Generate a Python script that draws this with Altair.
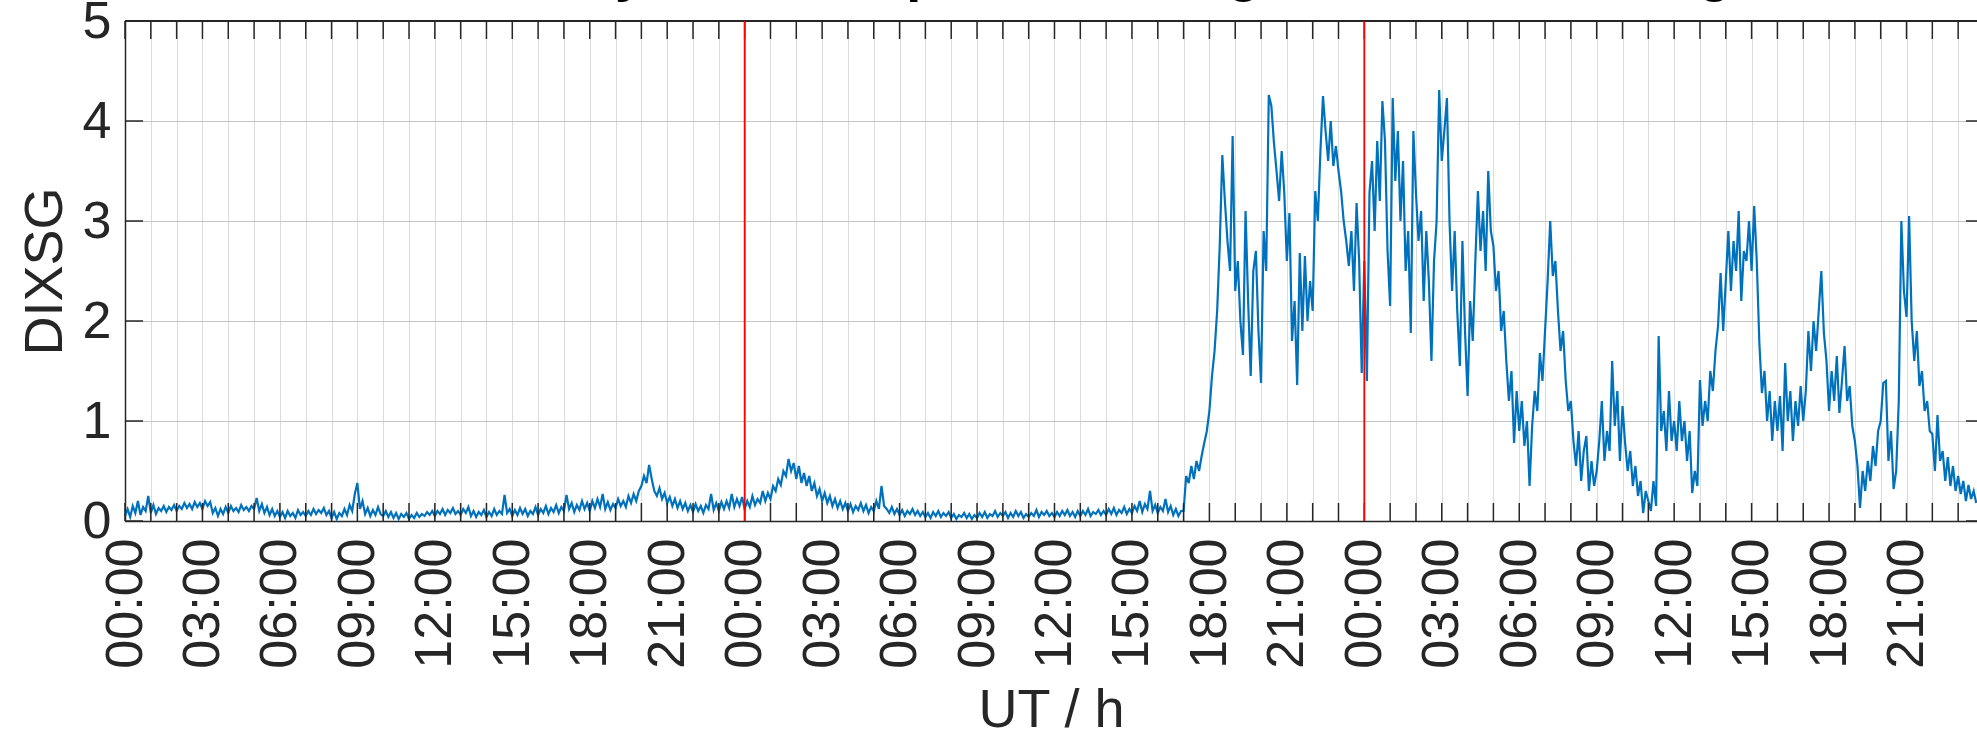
import altair as alt
import pandas as pd

# ---------------- data (DIXSG, 6-minute steps) ----------------
day1 = [
    [0.05, 0.12, 0.04, 0.15, 0.08, 0.20, 0.06, 0.14, 0.10, 0.25],
    [0.08, 0.16, 0.07, 0.13, 0.10, 0.15, 0.09, 0.14, 0.11, 0.16],
    [0.10, 0.15, 0.12, 0.18, 0.13, 0.17, 0.12, 0.19, 0.14, 0.18],
    [0.12, 0.20, 0.15, 0.19, 0.08, 0.13, 0.05, 0.12, 0.07, 0.14],
    [0.08, 0.15, 0.10, 0.13, 0.09, 0.16, 0.11, 0.14, 0.10, 0.15],
    [0.12, 0.23, 0.10, 0.17, 0.08, 0.14, 0.06, 0.12, 0.05, 0.10],
    [0.04, 0.09, 0.03, 0.10, 0.05, 0.08, 0.03, 0.11, 0.06, 0.09],
    [0.05, 0.10, 0.06, 0.12, 0.07, 0.11, 0.08, 0.13, 0.06, 0.10],
    [0.03, 0.09, 0.02, 0.08, 0.05, 0.12, 0.06, 0.16, 0.10, 0.27],
    [0.38, 0.12, 0.20, 0.07, 0.13, 0.05, 0.11, 0.06, 0.14, 0.07],
    [0.05, 0.10, 0.04, 0.09, 0.03, 0.08, 0.02, 0.07, 0.04, 0.08],
    [0.02, 0.06, 0.03, 0.08, 0.04, 0.07, 0.05, 0.09, 0.06, 0.10],
    [0.05, 0.10, 0.07, 0.12, 0.06, 0.11, 0.08, 0.13, 0.07, 0.10],
    [0.06, 0.12, 0.08, 0.14, 0.05, 0.10, 0.04, 0.09, 0.06, 0.11],
    [0.04, 0.09, 0.05, 0.12, 0.06, 0.10, 0.07, 0.26, 0.08, 0.12],
    [0.05, 0.11, 0.06, 0.13, 0.07, 0.12, 0.05, 0.10, 0.07, 0.14],
    [0.06, 0.12, 0.08, 0.15, 0.07, 0.13, 0.09, 0.16, 0.08, 0.14],
    [0.10, 0.26, 0.12, 0.18, 0.09, 0.16, 0.11, 0.20, 0.12, 0.18],
    [0.10, 0.20, 0.13, 0.22, 0.14, 0.27, 0.12, 0.19, 0.11, 0.17],
    [0.13, 0.22, 0.15, 0.20, 0.14, 0.25, 0.18, 0.27, 0.20, 0.30],
    [0.35, 0.45, 0.38, 0.56, 0.42, 0.30, 0.25, 0.33, 0.22, 0.28],
    [0.18, 0.24, 0.15, 0.22, 0.13, 0.20, 0.12, 0.18, 0.10, 0.16],
    [0.09, 0.17, 0.10, 0.15, 0.08, 0.16, 0.12, 0.27, 0.11, 0.18],
    [0.10, 0.19, 0.12, 0.20, 0.13, 0.27, 0.14, 0.22, 0.15, 0.24],
]
day2 = [
    [0.12, 0.20, 0.14, 0.25, 0.16, 0.22, 0.18, 0.30, 0.20, 0.28],
    [0.22, 0.35, 0.30, 0.42, 0.36, 0.50, 0.45, 0.62, 0.50, 0.58],
    [0.42, 0.55, 0.38, 0.48, 0.35, 0.45, 0.30, 0.38, 0.25, 0.32],
    [0.20, 0.28, 0.18, 0.25, 0.15, 0.22, 0.13, 0.20, 0.12, 0.18],
    [0.10, 0.17, 0.09, 0.15, 0.11, 0.18, 0.10, 0.16, 0.08, 0.14],
    [0.10, 0.20, 0.12, 0.35, 0.15, 0.12, 0.08, 0.14, 0.07, 0.12],
    [0.06, 0.11, 0.05, 0.10, 0.07, 0.12, 0.06, 0.10, 0.05, 0.09],
    [0.04, 0.08, 0.03, 0.09, 0.05, 0.10, 0.04, 0.08, 0.05, 0.09],
    [0.03, 0.07, 0.02, 0.06, 0.04, 0.08, 0.03, 0.07, 0.02, 0.06],
    [0.03, 0.08, 0.04, 0.09, 0.03, 0.07, 0.05, 0.10, 0.04, 0.08],
    [0.05, 0.09, 0.03, 0.08, 0.04, 0.10, 0.05, 0.09, 0.03, 0.07],
    [0.04, 0.08, 0.05, 0.11, 0.04, 0.09, 0.06, 0.10, 0.05, 0.08],
    [0.04, 0.09, 0.05, 0.10, 0.06, 0.11, 0.05, 0.09, 0.04, 0.10],
    [0.05, 0.10, 0.06, 0.12, 0.05, 0.09, 0.07, 0.11, 0.06, 0.10],
    [0.06, 0.12, 0.07, 0.13, 0.06, 0.11, 0.08, 0.14, 0.07, 0.12],
    [0.08, 0.15, 0.10, 0.20, 0.09, 0.17, 0.12, 0.30, 0.10, 0.16],
    [0.08, 0.14, 0.10, 0.22, 0.09, 0.15, 0.06, 0.12, 0.05, 0.10],
    [0.10, 0.45, 0.38, 0.55, 0.42, 0.60, 0.50, 0.65, 0.78, 0.90],
    [1.10, 1.45, 1.70, 2.10, 2.75, 3.66, 3.20, 2.80, 2.50, 3.85],
    [2.30, 2.60, 2.00, 1.66, 3.10, 2.20, 1.45, 2.50, 2.70, 1.90],
    [1.38, 2.90, 2.50, 4.26, 4.15, 3.78, 3.50, 3.20, 3.70, 3.28],
    [2.60, 3.08, 1.80, 2.20, 1.36, 2.68, 1.90, 2.65, 2.00, 2.40],
    [2.10, 3.30, 3.00, 3.70, 4.25, 3.90, 3.60, 4.00, 3.55, 3.75],
    [3.50, 3.30, 3.00, 2.80, 2.55, 2.90, 2.30, 3.18, 2.60, 1.48],
]
day3 = [
    [2.60, 1.40, 3.28, 3.60, 2.90, 3.80, 3.20, 4.20, 3.80, 2.70],
    [2.15, 4.23, 3.40, 3.90, 3.00, 3.60, 2.50, 2.90, 1.88, 3.90],
    [3.28, 2.80, 3.10, 2.20, 2.90, 2.40, 1.60, 2.60, 3.00, 4.31],
    [3.60, 3.90, 4.23, 3.00, 2.30, 2.90, 2.10, 1.55, 2.80, 1.90],
    [1.25, 2.20, 1.80, 2.60, 3.30, 2.70, 3.10, 2.50, 3.50, 2.90],
    [2.75, 2.30, 2.50, 1.90, 2.10, 1.60, 1.20, 1.50, 0.78, 1.30],
    [0.90, 1.20, 0.75, 1.00, 0.35, 0.95, 1.30, 1.10, 1.68, 1.40],
    [1.90, 2.40, 3.00, 2.45, 2.60, 2.10, 1.70, 1.90, 1.40, 1.10],
    [1.20, 0.80, 0.55, 0.90, 0.40, 0.70, 0.85, 0.30, 0.60, 0.35],
    [0.50, 0.80, 1.20, 0.60, 0.90, 0.70, 1.60, 0.95, 1.30, 0.60],
    [1.15, 0.78, 0.50, 0.70, 0.35, 0.55, 0.25, 0.40, 0.08, 0.30],
    [0.20, 0.10, 0.40, 0.15, 1.85, 0.90, 1.10, 0.70, 1.30, 0.80],
    [1.00, 0.70, 1.20, 0.80, 1.00, 0.60, 0.90, 0.28, 0.50, 0.35],
    [1.41, 0.95, 1.20, 1.00, 1.50, 1.30, 1.70, 1.95, 2.48, 1.90],
    [2.40, 2.90, 2.30, 2.80, 2.50, 3.10, 2.20, 2.70, 2.60, 3.00],
    [2.50, 3.15, 2.60, 1.78, 1.28, 1.50, 1.00, 1.30, 0.80, 1.20],
    [0.90, 1.25, 0.70, 1.58, 1.00, 1.30, 0.80, 1.20, 0.95, 1.35],
    [1.00, 1.30, 1.90, 1.50, 2.00, 1.70, 2.10, 2.50, 1.88, 1.60],
    [1.10, 1.50, 1.20, 1.65, 1.08, 1.40, 1.75, 1.20, 1.35, 0.95],
    [0.80, 0.55, 0.13, 0.50, 0.30, 0.60, 0.40, 0.75, 0.55, 0.90],
    [1.00, 1.38, 1.40, 0.60, 0.90, 0.32, 0.50, 1.20, 3.00, 2.30],
    [2.04, 3.05, 2.00, 1.60, 1.90, 1.35, 1.50, 1.10, 1.20, 0.90],
    [0.87, 0.50, 1.06, 0.60, 0.70, 0.40, 0.64, 0.35, 0.55, 0.30],
    [0.45, 0.27, 0.40, 0.20, 0.36, 0.22, 0.30, 0.18],
]
step_h = 0.1                      # 6-minute sampling, in hours
hour_ticks = list(range(72))      # tick every hour, label every 3 h
y_ticks = [0, 1, 2, 3, 4, 5]
day_bounds = [24, 48]
x_max = 71.73                     # visible end of the axis
# the title is cut off by the top edge in the reference; only its descenders show
title_text = "Three-day DIXSG at peak storm: gradient index for grid TEC"

values = [v for row in day1 + day2 + day3 for v in row]
df = pd.DataFrame({"t": [round(i * step_h, 2) for i in range(len(values))], "v": values})
xt = pd.DataFrame({"t": hour_ticks})
yt = pd.DataFrame({"v": y_ticks})
db = pd.DataFrame({"t": day_bounds})

W, H = 1852, 500
FONT = "Liberation Sans"
DARK = "#262626"

xs = alt.Scale(domain=[0, x_max], nice=False, zero=False)
ys = alt.Scale(domain=[0, 5], nice=False, zero=False)

label_expr = ("datum.value % 3 == 0 ? ((datum.value % 24 < 10 ? '0' : '') + "
              "(datum.value % 24) + ':00') : ''")

x_axis = alt.Axis(
    values=hour_ticks, labelExpr=label_expr, labelAngle=270, labelPadding=17,
    labelFontSize=52, labelFont=FONT, labelColor=DARK, labelOverlap=False,
    labelFlush=False, labelBound=False, labelSeparation=0,
    title="UT / h", titleFont=FONT, titleFontSize=54, titleFontWeight="normal",
    titleColor=DARK, titleY=205, titleBaseline="alphabetic",
    grid=True, gridColor="#dcdcdc", gridWidth=1,
    ticks=False, tickSize=0, domainColor=DARK, domainWidth=1.5)
y_axis = alt.Axis(
    values=y_ticks, format="d", labelPadding=14, labelFontSize=52, labelFont=FONT,
    labelColor=DARK, labelFlush=False, labelOverlap=False,
    title="DIXSG", titleFont=FONT, titleFontSize=54, titleFontWeight="normal",
    titleColor=DARK, titleAngle=270, titleX=-64, titleY=H / 2,
    titleAlign="center", titleBaseline="alphabetic",
    grid=True, gridColor="#c4c4c4", gridWidth=1,
    ticks=False, tickSize=0, domainColor=DARK, domainWidth=1.5)

X = alt.X("t:Q", scale=xs, axis=x_axis, title="UT / h")
Y = alt.Y("v:Q", scale=ys, axis=y_axis, title="DIXSG")

line = alt.Chart(df).mark_line(color="#0072BD", strokeWidth=2.2).encode(x=X, y=Y)

tick_bottom = alt.Chart(xt).mark_rule(color=DARK, strokeWidth=1.5).encode(
    x=X, y=alt.value(H), y2=alt.value(H - 18))
tick_top = alt.Chart(xt).mark_rule(color=DARK, strokeWidth=1.5).encode(
    x=X, y=alt.value(0), y2=alt.value(18))
tick_left = alt.Chart(yt).mark_rule(color=DARK, strokeWidth=1.5).encode(
    y=Y, x=alt.value(0), x2=alt.value(18))
tick_right = alt.Chart(yt).mark_rule(color=DARK, strokeWidth=1.5).encode(
    y=Y, x=alt.value(W - 11), x2=alt.value(W))
top_border = alt.Chart(db).mark_rule(color=DARK, strokeWidth=1.8).encode(
    x=alt.value(0), x2=alt.value(W), y=alt.value(0))

red = alt.Chart(db).mark_rule(color="#ff0000", strokeWidth=1.8).encode(
    x=X, y=alt.value(0), y2=alt.value(H))

title = alt.Chart(pd.DataFrame({"title": [title_text]})).mark_text(
    font=FONT, fontSize=54, fontWeight="bold", color="#000000",
    align="left", baseline="alphabetic").encode(
    text="title:N", x=alt.value(262), y=alt.value(-30))

chart = alt.layer(line, tick_bottom, tick_top, tick_left, tick_right,
                  top_border, red, title).properties(
    width=W, height=H,
    padding={"left": 125, "top": 21, "right": 0, "bottom": 210},
    autosize=alt.AutoSizeParams(type="none"),
).configure_view(stroke=None).configure(background="white")

chart.save("out.html", embed_options={"renderer": "svg", "actions": False})
